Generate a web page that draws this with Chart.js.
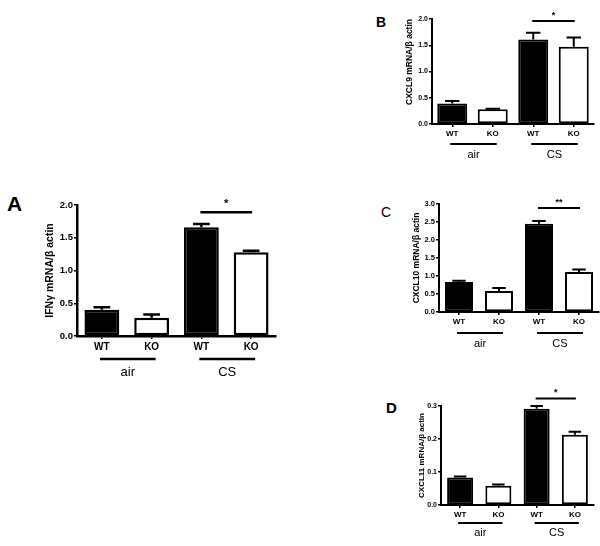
<!DOCTYPE html>
<html>
<head>
<meta charset="utf-8">
<script src="https://cdn.jsdelivr.net/npm/chart.js@4"></script>
<style>
  body { margin: 0; background: #fff; width: 600px; height: 546px; position: relative; overflow: hidden;
         font-family: 'Liberation Sans', Arial, sans-serif; }
  .panel { position: absolute; }
  .tag { position: absolute; line-height: 1; color: #000; }
</style>
</head>
<body>

<div class="tag" style="left:7px;top:193px;font-size:21px;font-weight:bold">A</div>
<div class="tag" style="left:376px;top:15px;font-size:14px;font-weight:bold">B</div>
<div class="tag" style="left:381px;top:205px;font-size:14px">C</div>
<div class="tag" style="left:386px;top:400px;font-size:15px;font-weight:bold">D</div>

<div class="panel" style="left:0;top:185px;width:295px;height:205px"><canvas id="chart-a"></canvas></div>
<div class="panel" style="left:395px;top:0;width:205px;height:165px"><canvas id="chart-b"></canvas></div>
<div class="panel" style="left:400px;top:180px;width:200px;height:170px"><canvas id="chart-c"></canvas></div>
<div class="panel" style="left:400px;top:380px;width:200px;height:166px"><canvas id="chart-d"></canvas></div>

<script>
// ── data ─────────────────────────────────────
const categories = ['WT', 'KO', 'WT', 'KO'];
const groups = ['air', 'CS'];
const barColors = ['#000', '#fff', '#000', '#fff'];

const ifngMeans   = [0.40, 0.28, 1.66, 1.28];
const ifngErrors  = [0.04, 0.05, 0.05, 0.02];
const cxcl9Means  = [0.39, 0.28, 1.61, 1.47];
const cxcl9Errors = [0.05, 0.01, 0.13, 0.18];
const cxcl10Means  = [0.83, 0.58, 2.45, 1.11];
const cxcl10Errors = [0.04, 0.09, 0.08, 0.07];
const cxcl11Means  = [0.083, 0.058, 0.292, 0.213];
const cxcl11Errors = [0.003, 0.004, 0.008, 0.009];

const sigLabels = ['*', '*', '**', '*'];   // A, B, C, D
const sigLevels = [1.89, 1.96, 2.89, 0.323];

const FONT = "'Liberation Sans', Arial, sans-serif";

// ── annotations: error bars, significance bar, group underlines ──
const annotPlugin = {
    id: 'annot',
    afterDatasetsDraw(chart, args, opts) {
        const { ctx, chartArea } = chart;
        const meta = chart.getDatasetMeta(0);
        const y = chart.scales.y;
        ctx.save();
        ctx.strokeStyle = '#000';
        ctx.fillStyle = '#000';
        ctx.lineWidth = opts.lw;

        // upper error bars
        opts.means.forEach((m, i) => {
            const bar = meta.data[i];
            const y0 = y.getPixelForValue(m);
            const y1 = y.getPixelForValue(m + opts.errors[i]);
            const half = bar.width * 0.24;
            ctx.beginPath();
            ctx.moveTo(bar.x, y0);
            ctx.lineTo(bar.x, y1);
            ctx.moveTo(bar.x - half, y1);
            ctx.lineTo(bar.x + half, y1);
            ctx.stroke();
        });

        // significance bar between the two CS bars
        const sy = y.getPixelForValue(opts.sigLevel);
        ctx.beginPath();
        ctx.moveTo(meta.data[2].x - 1, sy);
        ctx.lineTo(meta.data[3].x + 1, sy);
        ctx.stroke();
        ctx.font = `bold ${opts.starSize}px ${FONT}`;
        ctx.textAlign = 'center';
        ctx.textBaseline = 'alphabetic';
        ctx.fillText(opts.sigLabel, (meta.data[2].x + meta.data[3].x) / 2, sy - opts.starDy);

        // group underlines + labels
        const ly = chartArea.bottom + opts.lineDy;
        ctx.font = `${opts.groupSize}px ${FONT}`;
        ctx.textBaseline = 'middle';
        groups.forEach((g, k) => {
            const x0 = meta.data[k * 2].x - 2;
            const x1 = meta.data[k * 2 + 1].x + 4;
            ctx.beginPath();
            ctx.moveTo(x0, ly);
            ctx.lineTo(x1, ly);
            ctx.stroke();
            ctx.fillText(g, (x0 + x1) / 2, chartArea.bottom + opts.textDy);
        });
        ctx.restore();
    }
};

function makePanel(id, p) {
    return new Chart(document.getElementById(id), {
        type: 'bar',
        data: {
            labels: categories,
            datasets: [{
                data: p.means,
                backgroundColor: barColors,
                borderColor: '#000',
                borderWidth: p.lw,
                borderSkipped: false,
                barPercentage: p.barPct,
                categoryPercentage: 1.0,
            }]
        },
        options: {
            responsive: true,
            maintainAspectRatio: false,
            animation: false,
            layout: { padding: { left: p.padL, top: p.padT, right: p.padR, bottom: 0 } },
            plugins: {
                legend: { display: false },
                tooltip: { enabled: false },
                annot: {
                    means: p.means, errors: p.errors, lw: p.lw,
                    sigLevel: p.sigLevel, sigLabel: p.sigLabel, starSize: p.starSize, starDy: p.starDy,
                    lineDy: p.lineDy, textDy: p.textDy, groupSize: p.groupSize,
                }
            },
            scales: {
                x: {
                    offset: true,
                    grid: { display: true, offset: false, drawOnChartArea: false, drawTicks: true,
                            tickLength: 3, color: '#000', lineWidth: 1.5 },
                    border: { display: true, color: '#000', width: p.lw },
                    ticks: { color: '#000', padding: 2, font: { family: FONT, size: p.xSize, weight: 'bold' } },
                    afterFit: s => { s.height = p.xHeight; },
                },
                y: {
                    min: 0,
                    max: p.yMax,
                    grid: { display: true, drawOnChartArea: false, drawTicks: true,
                            tickLength: 3, color: '#000', lineWidth: 1.5 },
                    border: { display: true, color: '#000', width: p.lw },
                    ticks: { stepSize: p.yStep, color: '#000', padding: 1,
                             font: { family: FONT, size: p.ySize, weight: 'bold' },
                             callback: v => Number(v).toFixed(1) },
                    title: { display: true, text: p.title, color: '#000', align: p.titleAlign || 'center',
                             padding: 0, font: { family: FONT, size: p.titleSize, weight: 'bold' } },
                    afterFit: s => { s.width = p.yWidth; },
                }
            }
        },
        plugins: [annotPlugin]
    });
}

// A: canvas at (0,185); plot area x 77–276, y 205–336
makePanel('chart-a', {
    means: ifngMeans, errors: ifngErrors, yMax: 2.0, yStep: 0.5,
    title: 'IFNγ mRNA/β actin', titleSize: 10.5, ySize: 9.5, xSize: 10, lw: 2.5,
    padL: 44, padT: 20, padR: 19, yWidth: 33, xHeight: 54, barPct: 0.7,
    sigLevel: sigLevels[0], sigLabel: sigLabels[0], starSize: 11, starDy: 5,
    lineDy: 23, textDy: 36, groupSize: 13,
});

// B: canvas at (395,0); plot area x 432–594, y 19–124
makePanel('chart-b', {
    means: cxcl9Means, errors: cxcl9Errors, yMax: 2.0, yStep: 0.5,
    title: 'CXCL9 mRNA/β actin', titleSize: 8.5, ySize: 7, xSize: 8, lw: 2,
    titleAlign: 'end',
    padL: 10, padT: 19, padR: 6, yWidth: 27, xHeight: 41, barPct: 0.74,
    sigLevel: sigLevels[1], sigLabel: sigLabels[1], starSize: 9, starDy: 3,
    lineDy: 20, textDy: 31, groupSize: 11,
});

// C: canvas at (400,180); plot area x 439–599, y 204–312
makePanel('chart-c', {
    means: cxcl10Means, errors: cxcl10Errors, yMax: 3.0, yStep: 0.5,
    title: 'CXCL10 mRNA/β actin', titleSize: 8.5, ySize: 7.5, xSize: 8, lw: 2,
    padL: 12, padT: 24, padR: 1, yWidth: 27, xHeight: 38, barPct: 0.7,
    sigLevel: sigLevels[2], sigLabel: sigLabels[2], starSize: 9, starDy: 3,
    lineDy: 21, textDy: 32, groupSize: 11,
});

// D: canvas at (400,380); plot area x 441–594, y 406–505
makePanel('chart-d', {
    means: cxcl11Means, errors: cxcl11Errors, yMax: 0.3, yStep: 0.1,
    title: 'CXCL11 mRNA/β actin', titleSize: 8, ySize: 7, xSize: 8, lw: 2,
    padL: 17, padT: 26, padR: 6, yWidth: 24, xHeight: 41, barPct: 0.68,
    sigLevel: sigLevels[3], sigLabel: sigLabels[3], starSize: 9, starDy: 3,
    lineDy: 18, textDy: 28, groupSize: 11,
});
</script>
</body>
</html>
